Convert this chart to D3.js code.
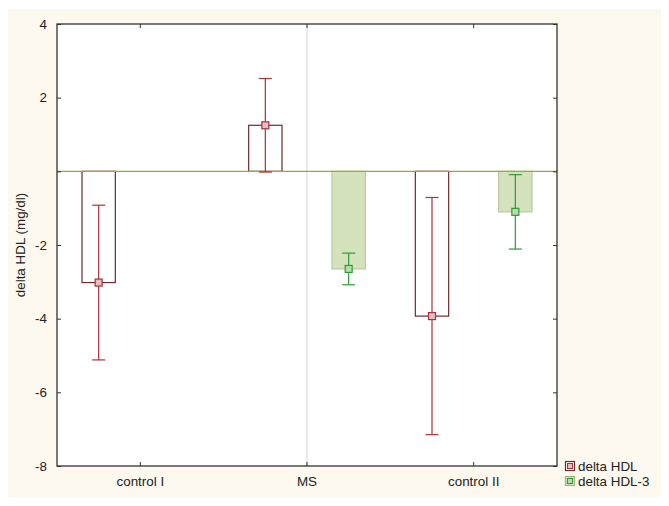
<!DOCTYPE html>
<html><head><meta charset="utf-8">
<script src="https://cdn.jsdelivr.net/npm/d3@7"></script>
<style>body{margin:0;background:#fff;} text{font-family:Arial,"Liberation Sans",sans-serif;}</style>
</head><body>
<svg id="c" width="669" height="506"></svg>
<script>
const categories = ["control I", "MS", "control II"];
const seriesNames = ["delta HDL", "delta HDL-3"];
const hdlMean = [-3.02, 1.25, -3.93];
const hdlErr = [2.1, 1.27, 3.22];
const hdl3Mean = [null, -2.65, -1.1];
const hdl3Err = [null, 0.43, 1.01];
const yTicks = [4, 2, 0, -2, -4, -6, -8];

const FS = 13.4;
const svg = d3.select("#c");
svg.append("rect").attr("x", 8).attr("y", 9).attr("width", 653).attr("height", 488).attr("fill", "#fdf9ef");
const L = 57, R = 557, T = 24, B = 466;
svg.append("rect").attr("x", L).attr("y", T).attr("width", R - L).attr("height", B - T).attr("fill", "#fff");

const x = d3.scaleBand().domain(categories).range([L, R]);
const y = d3.scaleLinear().domain([-8, 4]).range([B, T]);
const bw = x.bandwidth();
const off = bw / 4, barW = bw / 5;

svg.append("line").attr("x1", x("MS") + bw / 2).attr("x2", x("MS") + bw / 2).attr("y1", T).attr("y2", B)
  .attr("stroke", "#d4d4d4").attr("stroke-width", 1);

const series = [
  {name: seriesNames[0], mean: hdlMean, err: hdlErr, fill: "#ffffff", stroke: "#6e2a2e", ecol: "#a8323a", mfill: "#e6c0c0", lstroke: "#6e2a2e", dx: -off},
  {name: seriesNames[1], mean: hdl3Mean, err: hdl3Err, fill: "#d5e3bd", stroke: "#b9c9a0", ecol: "#2f9a3a", mfill: "#b8dca8", lstroke: "#9fb585", dx: off}
];

series.forEach(s => {
  const g = svg.append("g");
  categories.forEach((c, i) => {
    const m = s.mean[i];
    if (m == null) return;
    const cx = x(c) + bw / 2 + s.dx;
    g.append("rect").attr("x", cx - barW / 2).attr("width", barW)
      .attr("y", Math.min(y(m), y(0))).attr("height", Math.abs(y(m) - y(0)))
      .attr("fill", s.fill).attr("stroke", s.stroke).attr("stroke-width", 1.2);
  });
});

svg.append("line").attr("x1", L).attr("x2", R).attr("y1", y(0)).attr("y2", y(0))
  .attr("stroke", "#a3a82a").attr("stroke-width", 1.2);

series.forEach(s => {
  const g = svg.append("g");
  categories.forEach((c, i) => {
    const m = s.mean[i];
    if (m == null) return;
    const e = s.err[i];
    const cx = x(c) + bw / 2 + s.dx;
    g.append("line").attr("x1", cx).attr("x2", cx).attr("y1", y(m + e)).attr("y2", y(m - e)).attr("stroke", s.ecol).attr("stroke-width", 1.2);
    [m + e, m - e].forEach(v => g.append("line").attr("x1", cx - 6.5).attr("x2", cx + 6.5).attr("y1", y(v)).attr("y2", y(v)).attr("stroke", s.ecol).attr("stroke-width", 1.2));
    g.append("rect").attr("x", cx - 3.5).attr("y", y(m) - 3.5).attr("width", 7).attr("height", 7)
      .attr("fill", s.mfill).attr("stroke", s.ecol).attr("stroke-width", 1.2);
  });
});

svg.append("rect").attr("x", L).attr("y", T).attr("width", R - L).attr("height", B - T)
  .attr("fill", "none").attr("stroke", "#333").attr("stroke-width", 1.3);

const fmt = d => d === 0 ? "" : String(d);
const gy = svg.append("g").attr("transform", `translate(${L},0)`)
  .call(d3.axisLeft(y).tickValues(yTicks).tickSizeInner(-4).tickSizeOuter(0).tickPadding(10).tickFormat(fmt));
gy.select(".domain").remove();
gy.selectAll("line").attr("stroke", "#333");
gy.selectAll("text").attr("font-size", FS).attr("fill", "#222");
const gyR = svg.append("g").attr("transform", `translate(${R},0)`).call(d3.axisRight(y).tickValues(yTicks).tickSizeInner(-4).tickSizeOuter(0).tickFormat(""));
gyR.select(".domain").remove(); gyR.selectAll("line").attr("stroke", "#333");

const gx = svg.append("g").attr("transform", `translate(0,${B})`).call(d3.axisBottom(x).tickSizeInner(-4).tickSizeOuter(0).tickPadding(10));
gx.select(".domain").remove();
gx.selectAll("line").attr("stroke", "#333");
gx.selectAll("text").attr("font-size", FS).attr("fill", "#222");
const gxT = svg.append("g").attr("transform", `translate(0,${T})`).call(d3.axisTop(x).tickSizeInner(-4).tickSizeOuter(0).tickFormat(""));
gxT.select(".domain").remove(); gxT.selectAll("line").attr("stroke", "#333");

svg.append("text").attr("transform", `translate(25,${(T + B) / 2}) rotate(-90)`).attr("text-anchor", "middle")
  .attr("font-size", FS).attr("fill", "#222").text("delta HDL (mg/dl)");

series.forEach((s, i) => {
  const ly = 461 + i * 15;
  svg.append("rect").attr("x", 565.5).attr("y", ly + 0.5).attr("width", 9).attr("height", 9)
    .attr("fill", s.fill).attr("stroke", s.lstroke).attr("stroke-width", 1.2);
  svg.append("rect").attr("x", 567.5).attr("y", ly + 2.5).attr("width", 5).attr("height", 5)
    .attr("fill", s.mfill).attr("stroke", s.ecol).attr("stroke-width", 1);
  svg.append("text").attr("x", 578).attr("y", ly + 10).attr("font-size", FS).attr("fill", "#222").text(s.name);
});
</script>
</body></html>
